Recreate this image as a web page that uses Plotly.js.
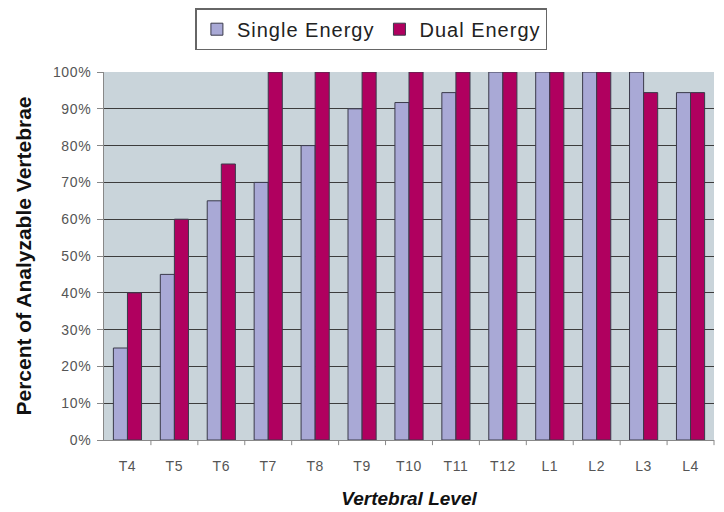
<!DOCTYPE html>
<html>
<head>
<meta charset="utf-8">
<script src="https://cdn.plot.ly/plotly-3.0.1.min.js"></script>
<style>
  html, body { margin: 0; padding: 0; background: #ffffff; }
  #chart { width: 724px; height: 512px; }
  /* slightly airy lettering for legend and tick labels */
  .legendtext { letter-spacing: 1px; }
  .xtick text, .ytick text { letter-spacing: 0.6px; }
</style>
</head>
<body>
<div id="chart"></div>
<script>
// Share of vertebrae that could be analysed at each vertebral level
const levels = ['T4', 'T5', 'T6', 'T7', 'T8', 'T9', 'T10', 'T11', 'T12', 'L1', 'L2', 'L3', 'L4'];
const singleEnergy = [0.25, 0.45, 0.65, 0.70, 0.80, 0.90, 0.917, 0.944, 1.00, 1.00, 1.00, 1.00, 0.944];
const dualEnergy   = [0.40, 0.60, 0.75, 1.00, 1.00, 1.00, 1.00, 1.00, 1.00, 1.00, 1.00, 0.944, 0.944];

const outline = { color: '#3a3a4a', width: 1 };

const traces = [
  {
    type: 'bar', name: 'Single Energy', x: levels, y: singleEnergy,
    marker: { color: '#a9a9d6', line: outline }
  },
  {
    type: 'bar', name: 'Dual Energy', x: levels, y: dualEnergy,
    marker: { color: '#b0005f', line: outline }
  }
];

const layout = {
  width: 724, height: 512,
  margin: { l: 104, r: 10, t: 72, b: 72, autoexpand: false },
  paper_bgcolor: '#ffffff',
  plot_bgcolor: '#c9d4da',
  font: { family: "'Liberation Sans', Arial, sans-serif", color: '#555555' },
  barmode: 'group',
  bargap: 0.4,
  bargroupgap: 0,
  showlegend: true,
  legend: {
    orientation: 'h',
    xref: 'container', x: 0.513, xanchor: 'center',
    yref: 'container', y: 0.984, yanchor: 'top',
    bordercolor: '#666666', borderwidth: 1.5,
    font: { size: 20, color: '#222222' },
    traceorder: 'normal'
  },
  xaxis: {
    type: 'category',
    showgrid: false,
    showline: true, linecolor: '#888888', linewidth: 1,
    ticks: '', tickfont: { size: 14, color: '#555555' },
    ticklabelstandoff: 13,
    title: {
      text: '<b><i>Vertebral Level</i></b>',
      font: { size: 19, color: '#111111' },
      standoff: 18
    }
  },
  yaxis: {
    range: [0, 1],
    dtick: 0.1,
    tickformat: '.0%',
    showgrid: true, gridcolor: '#3c3c3c', gridwidth: 1,
    showline: true, linecolor: '#888888', linewidth: 1,
    ticks: 'outside', ticklen: 6, tickcolor: '#888888',
    ticklabelstandoff: 3,
    tickfont: { size: 14, color: '#555555' },
    zeroline: false,
    title: {
      text: '<b>Percent of Analyzable Vertebrae</b>',
      font: { size: 21, color: '#111111' },
      standoff: 15
    }
  },
  shapes: levels.slice(0, -1).map((_, i) => ({
    type: 'line', xref: 'x', yref: 'paper',
    x0: i + 0.5, x1: i + 0.5, y0: 0, y1: -0.014,
    line: { color: '#888888', width: 1 }
  })).concat([{
    type: 'line', xref: 'paper', yref: 'paper',
    x0: 1, x1: 1, y0: 0, y1: -0.014,
    line: { color: '#888888', width: 1 }
  }])
};

Plotly.newPlot('chart', traces, layout, { displayModeBar: false, staticPlot: true });
</script>
</body>
</html>
